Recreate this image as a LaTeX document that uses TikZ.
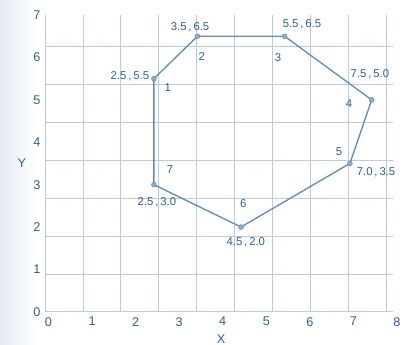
\documentclass[tikz,border=0pt]{standalone}
\usepackage{fontspec}
\setmainfont{Liberation Sans}
\definecolor{ink}{RGB}{45,95,150}
\definecolor{edgec}{RGB}{95,140,190}
\definecolor{gridc}{RGB}{190,202,214}
\definecolor{shade}{RGB}{228,236,245}
\begin{document}
\begin{tikzpicture}[x=32.67pt,y=31.8pt,
  lbl/.style={text=ink, inner sep=0pt, font=\fontsize{8.5}{10}\selectfont},
  tick/.style={text=ink, inner sep=0pt, font=\fontsize{9.5}{11}\selectfont},
  vtx/.style={circle, fill=edgec!70, draw=edgec, inner sep=0pt, minimum size=3.6pt},
  poly/.style={draw=edgec, line width=1pt, line join=round}]
\useasboundingbox (-1.033,-0.778) rectangle (8.219,7.355);
\fill[left color=shade, right color=white] (-1.033,-0.778) rectangle (-0.2,7.355);
% grid
\draw[gridc, line width=0.6pt] (0,0) grid (8,7);
% tick labels
\foreach \i in {0,...,8} \node[tick, anchor=north] (xt\i) at (\i+0.08,-0.12) {\i};
\foreach \j in {0,...,7} \node[tick, anchor=east] (yt\j) at (-0.1,\j) {\j};
\node[tick] (xl) at (4.04,-0.64) {X};
\node[tick] (yl) at (-0.53,3.5) {Y};
% vertices
\coordinate (p1) at (2.5,5.5);
\coordinate (p2) at (3.5,6.5);
\coordinate (p3) at (5.5,6.5);
\coordinate (p4) at (7.5,5.0);
\coordinate (p5) at (7.0,3.5);
\coordinate (p6) at (4.5,2.0);
\coordinate (p7) at (2.5,3.0);
\draw[poly] (p1) -- (p2) -- (p3) -- (p4) -- (p5) -- (p6) -- (p7) -- cycle;
\foreach \k in {1,...,7} \node[vtx] (m\k) at (p\k) {};
% coordinate labels
\node[lbl] (c1) at (1.95,5.56) {2.5\,,\,5.5};
\node[lbl] (c2) at (3.33,6.72) {3.5\,,\,6.5};
\node[lbl] (c3) at (5.90,6.79) {5.5\,,\,6.5};
\node[lbl] (c4) at (7.46,5.61) {7.5\,,\,5.0};
\node[lbl] (c5) at (7.60,3.30) {7.0\,,\,3.5};
\node[lbl] (c6) at (4.61,1.63) {4.5\,,\,2.0};
\node[lbl] (c7) at (2.57,2.59) {2.5\,,\,3.0};
% vertex numbers
\node[lbl] (n1) at (2.82,5.30) {1};
\node[lbl] (n2) at (3.60,6.01) {2};
\node[lbl] (n3) at (5.35,5.99) {3};
\node[lbl] (n4) at (6.98,4.90) {4};
\node[lbl] (n5) at (6.75,3.77) {5};
\node[lbl] (n6) at (4.55,2.55) {6};
\node[lbl] (n7) at (2.87,3.35) {7};
\end{tikzpicture}
\end{document}
